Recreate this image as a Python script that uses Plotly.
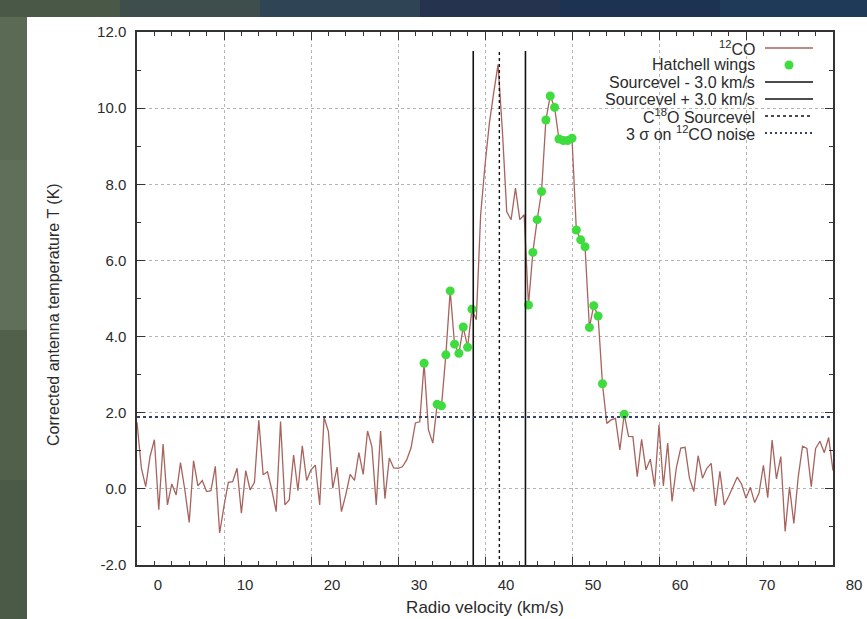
import plotly.graph_objects as go

# ---------------- data ----------------
velocity_kms = [
    0.0, 0.5, 1.0, 1.5, 2.0, 2.5, 3.0, 3.5, 4.0, 4.5,
    5.0, 5.5, 6.0, 6.5, 7.0, 7.5, 8.0, 8.5, 9.0, 9.5,
    10.0, 10.5, 11.0, 11.5, 12.0, 12.5, 13.0, 13.5, 14.0, 14.5,
    15.0, 15.5, 16.0, 16.5, 17.0, 17.5, 18.0, 18.5, 19.0, 19.5,
    20.0, 20.5, 21.0, 21.5, 22.0, 22.5, 23.0, 23.5, 24.0, 24.5,
    25.0, 25.5, 26.0, 26.5, 27.0, 27.5, 28.0, 28.5, 29.0, 29.5,
    30.0, 30.5, 31.0, 31.5, 32.0, 32.5, 33.0, 33.5, 34.0, 34.5,
    35.0, 35.5, 36.0, 36.5, 37.0, 37.5, 38.0, 38.5, 39.0, 39.5,
    40.0, 40.5, 41.0, 41.5, 42.0, 42.5, 43.0, 43.5, 44.0, 44.5,
    45.0, 45.5, 46.0, 46.5, 47.0, 47.5, 48.0, 48.5, 49.0, 49.5,
    50.0, 50.5, 51.0, 51.5, 52.0, 52.5, 53.0, 53.5, 54.0, 54.5,
    55.0, 55.5, 56.0, 56.5, 57.0, 57.5, 58.0, 58.5, 59.0, 59.5,
    60.0, 60.5, 61.0, 61.5, 62.0, 62.5, 63.0, 63.5, 64.0, 64.5,
    65.0, 65.5, 66.0, 66.5, 67.0, 67.5, 68.0, 68.5, 69.0, 69.5,
    70.0, 70.5, 71.0, 71.5, 72.0, 72.5, 73.0, 73.5, 74.0, 74.5,
    75.0, 75.5, 76.0, 76.5, 77.0, 77.5, 78.0, 78.5, 79.0, 79.5,
    80.0,
]

t_12co = [
    1.75, 0.55, 0.06, 0.85, 1.29, -0.55, 1.18, -0.42, 0.13, -0.16,
    0.69, -0.03, -0.88, 0.74, 0.08, 0.22, -0.07, -0.05, 0.59, -1.16,
    -0.45, 0.17, 0.19, 0.54, -0.64, 0.48, -0.03, 0.17, 1.80, 0.37,
    0.45, -0.03, -0.60, 1.77, -0.42, -0.29, 0.89, -0.05, 1.13, 0.22,
    0.50, 0.62, -0.42, 1.88, 1.51, 0.02, 0.57, -0.60, -0.15, 0.38,
    0.22, 0.95, 0.38, 1.52, 1.11, -0.42, 1.52, -0.26, 0.81, 0.55,
    0.54, 0.58, 0.76, 1.08, 1.73, 1.76, 3.30, 1.55, 1.20, 2.22,
    2.18, 3.52, 5.20, 3.80, 3.56, 4.25, 3.72, 4.72, 4.44, 7.20,
    8.50, 9.60, 10.40, 11.15, 9.40, 7.28, 7.07, 7.90, 7.07, 7.20,
    4.83, 6.21, 7.07, 7.81, 9.69, 10.32, 10.02, 9.19, 9.15, 9.15,
    9.21, 6.80, 6.54, 6.36, 4.24, 4.81, 4.54, 2.76, 1.72, 1.81,
    1.85, 1.02, 1.96, 1.38, 1.37, 0.32, 1.30, 0.50, 0.78, 0.06,
    1.68, 0.08, 1.20, -0.33, 0.56, 1.07, 1.09, 0.28, -0.07, 0.87,
    0.28, 0.54, 0.67, -0.45, 0.46, -0.42, -0.20, 0.05, 0.31, 0.12,
    -0.25, 0.04, -0.36, -0.11, 0.62, -0.23, 1.28, 0.26, 0.85, -1.12,
    0.05, -0.91, 0.31, 1.12, 1.06, 0.06, 1.06, 1.25, 0.95, 1.35,
    0.48,
]

wing_velocity = [
    33.0, 34.5, 35.0, 35.5, 36.0, 36.5, 37.0, 37.5, 38.0, 38.5,
    45.0, 45.5, 46.0, 46.5, 47.0, 47.5, 48.0, 48.5, 49.0, 49.5,
    50.0, 50.5, 51.0, 51.5, 52.0, 52.5, 53.0, 53.5, 56.0,
]
wing_t = [
    3.30, 2.22, 2.18, 3.52, 5.20, 3.80, 3.56, 4.25, 3.72, 4.72,
    4.83, 6.21, 7.07, 7.81, 9.69, 10.32, 10.02, 9.19, 9.15, 9.15,
    9.21, 6.80, 6.54, 6.36, 4.24, 4.81, 4.54, 2.76, 1.96,
]

source_velocity = 41.65     # C18O source velocity (km/s)
velocity_offset = 3.0       # +/- 3.0 km/s
noise_3sigma = 1.89         # 3 sigma on 12CO noise (K)
marker_line_top = 11.5      # top of the vertical velocity markers (K)

x_tick_values = [0, 10, 20, 30, 40, 50, 60, 70, 80]
x_tick_labels = ["0", "10", "20", "30", "40", "50", "60", "70", "80"]
y_tick_values = [-2, 0, 2, 4, 6, 8, 10, 12]
y_tick_labels = ["-2.0", "0.0", "2.0", "4.0", "6.0", "8.0", "10.0", "12.0"]
x_range = [0, 80]
y_range = [-2, 12]

x_title = "Radio velocity (km/s)"
y_title = "Corrected antenna temperature T (K)"
legend_labels = [
    "<sup>12</sup>CO",
    "Hatchell wings",
    "Sourcevel - 3.0 km/s",
    "Sourcevel + 3.0 km/s",
    "C<sup>18</sup>O Sourcevel",
    "3 σ on <sup>12</sup>CO noise",
]

# ---------------- style ----------------
FONT = "Liberation Sans, Arial, sans-serif"
TXT = "#2b2b2b"
CO_COLOR = "#a8635d"
WING_COLOR = "#3fdc3f"
NOISE_COLOR = "#34416a"
GRID = "#b4b4b4"

W, H = 867, 619
L, R, T, B = 137, 34, 32, 54
PW, PH = W - L - R, H - T - B


def px2paper_x(px):
    return (px - L) / PW


def px2paper_y(py):
    return (H - B - py) / PH


fig = go.Figure()

fig.add_trace(go.Scatter(
    x=velocity_kms, y=t_12co, mode="lines",
    line=dict(color=CO_COLOR, width=1.3), showlegend=False,
))
fig.add_trace(go.Scatter(
    x=wing_velocity, y=wing_t, mode="markers",
    marker=dict(color=WING_COLOR, size=9, line=dict(width=0)), showlegend=False,
))
fig.add_trace(go.Scatter(
    x=[source_velocity - velocity_offset] * 2, y=[y_range[0], marker_line_top],
    mode="lines", line=dict(color="#111111", width=1.6), showlegend=False,
))
fig.add_trace(go.Scatter(
    x=[source_velocity + velocity_offset] * 2, y=[y_range[0], marker_line_top],
    mode="lines", line=dict(color="#111111", width=1.6), showlegend=False,
))
fig.add_trace(go.Scatter(
    x=[source_velocity] * 2, y=[y_range[0], marker_line_top],
    mode="lines", line=dict(color="#111111", width=1.4, dash="3px,3px"), showlegend=False,
))
fig.add_trace(go.Scatter(
    x=x_range, y=[noise_3sigma] * 2,
    mode="lines", line=dict(color=NOISE_COLOR, width=2, dash="3px,3px"), showlegend=False,
))

shapes = []
# background photo-like frame
shapes.append(dict(type="rect", xref="paper", yref="paper", layer="below",
                   x0=px2paper_x(0), x1=px2paper_x(W), y0=px2paper_y(H), y1=px2paper_y(0),
                   fillcolor="#22374d", line=dict(width=0)))
for (a, b, c) in [(0, 120, "#4a5848"), (120, 260, "#3e4e4c"), (260, 420, "#2f4455"),
                  (420, 560, "#25334f"), (560, 720, "#1d3352"), (720, 867, "#1f3a58")]:
    shapes.append(dict(type="rect", xref="paper", yref="paper", layer="below",
                       x0=px2paper_x(a), x1=px2paper_x(b), y0=px2paper_y(17), y1=px2paper_y(0),
                       fillcolor=c, line=dict(width=0)))
for (a, b, c) in [(17, 160, "#5a6a55"), (160, 330, "#5f6f5a"), (330, 480, "#50604b"), (480, 619, "#4b5a46")]:
    shapes.append(dict(type="rect", xref="paper", yref="paper", layer="below",
                       x0=px2paper_x(0), x1=px2paper_x(27), y0=px2paper_y(b), y1=px2paper_y(a),
                       fillcolor=c, line=dict(width=0)))
shapes.append(dict(type="rect", xref="paper", yref="paper", layer="below",
                   x0=px2paper_x(27), x1=px2paper_x(W), y0=px2paper_y(H), y1=px2paper_y(17),
                   fillcolor="#ffffff", line=dict(width=0)))

# custom legend (text right-aligned, sample on the right, as in gnuplot)
rows_py = [48, 65, 82, 99, 116, 133]
text_right = px2paper_x(757)
s0, s1 = px2paper_x(765), px2paper_x(813)
annotations = []
for lab, py in zip(legend_labels, rows_py):
    annotations.append(dict(text=lab, xref="paper", yref="paper", x=text_right, y=px2paper_y(py),
                            xanchor="right", yanchor="middle", showarrow=False,
                            font=dict(family=FONT, size=16, color=TXT)))
# y-axis title (slightly below the plot centre, as in the reference)
annotations.append(dict(text=y_title, textangle=-90, xref="paper", yref="paper",
                        x=px2paper_x(53), y=px2paper_y(315), xanchor="center", yanchor="middle",
                        showarrow=False, font=dict(family=FONT, size=16, color=TXT)))

sample_styles = [
    dict(color=CO_COLOR, width=1.3),
    None,
    dict(color="#111111", width=1.6),
    dict(color="#111111", width=1.6),
    dict(color="#111111", width=1.4, dash="3px,3px"),
    dict(color=NOISE_COLOR, width=2, dash="2px,3px"),
]
for st, py in zip(sample_styles, rows_py):
    if st is None:
        shapes.append(dict(type="circle", xref="paper", yref="paper",
                           xsizemode="pixel", ysizemode="pixel",
                           xanchor=px2paper_x(789), yanchor=px2paper_y(py),
                           x0=-4.5, x1=4.5, y0=-4.5, y1=4.5,
                           fillcolor=WING_COLOR, line=dict(width=0)))
    else:
        shapes.append(dict(type="line", xref="paper", yref="paper",
                           x0=s0, x1=s1, y0=px2paper_y(py), y1=px2paper_y(py), line=st))

axis_common = dict(
    showline=True, linecolor="#333333", linewidth=1.5, mirror="ticks",
    ticks="inside", ticklen=8, tickwidth=1, tickcolor="#333333",
    showgrid=True, gridcolor=GRID, griddash="dot", gridwidth=1,
    zeroline=False, automargin=False,
    tickfont=dict(family=FONT, size=15, color=TXT),
)

fig.update_layout(
    width=W, height=H,
    margin=dict(l=L, r=R, t=T, b=B),
    paper_bgcolor="#22374d", plot_bgcolor="#ffffff",
    showlegend=False,
    shapes=shapes, annotations=annotations,
    xaxis=dict(
        range=x_range, tickmode="array", tickvals=x_tick_values, ticktext=x_tick_labels,
        ticklabelshift=21, ticklabelstandoff=5,
        minor=dict(dtick=2, ticks="inside", ticklen=4, tickcolor="#333333", showgrid=False),
        title=dict(text=x_title, standoff=9,
                   font=dict(family=FONT, size=17, color=TXT)),
        **axis_common,
    ),
    yaxis=dict(
        range=y_range, tickmode="array", tickvals=y_tick_values, ticktext=y_tick_labels,
        ticklabelstandoff=6,
        minor=dict(dtick=1, ticks="inside", ticklen=4, tickcolor="#333333", showgrid=False),
        **axis_common,
    ),
)

fig.write_html(
    "out.html",
    config={"displayModeBar": False},
    post_script="document.body.style.margin='0';document.body.style.overflow='hidden';",
)
